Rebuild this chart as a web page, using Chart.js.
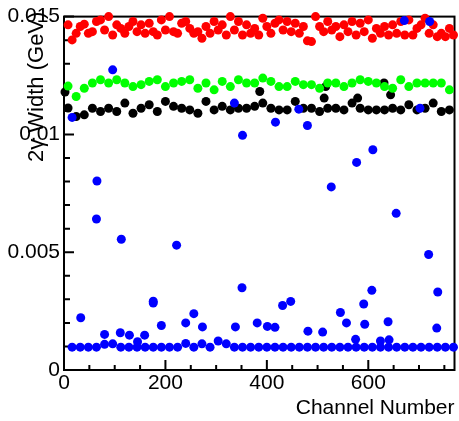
<!DOCTYPE html>
<html>
<head>
<meta charset="utf-8">
<script src="https://cdn.jsdelivr.net/npm/chart.js@4/dist/chart.umd.min.js"></script>
<style>
  html, body { margin: 0; padding: 0; background: #fff; }
  canvas { display: block; }
</style>
</head>
<body>
<canvas id="grafico" width="459" height="421"></canvas>
<script>
// Dados
const channels = [8,24,40,56,72,88,104,120,136,152,168,184,200,216,232,248,264,280,296,312,328,344,360,376,
  392,408,424,440,456,472,488,504,520,536,552,568,584,600,616,632,648,664,680,696,712,728,744,760];
const baseChannels = [16,32,48,64,80,96,112,128,144,160,176,192,208,224,240,256,272,288,304,320,336,352,368,384,
  400,416,432,448,464,480,496,512,528,544,560,576,592,608,624,640,656,672,688,704,720,736,752,768];

const redA = [0.01465,0.01429,0.01468,0.01436,0.01486,0.01500,0.01465,0.01429,0.01479,0.01465,0.01472,0.01422,
  0.01443,0.01436,0.01472,0.01450,0.01436,0.01458,0.01479,0.01465,0.01500,0.01479,0.01465,0.01450,
  0.01493,0.01429,0.01486,0.01479,0.01472,0.01458,0.01394,0.01458,0.01479,0.01458,0.01465,0.01479,
  0.01472,0.01486,0.01450,0.01458,0.01465,0.01479,0.01486,0.01450,0.01493,0.01465,0.01429,0.01450];
const redB = [0.01401,0.01458,0.01429,0.01479,0.01443,0.01422,0.01450,0.01458,0.01436,0.01429,0.01436,0.01486,
  0.01500,0.01429,0.01479,0.01429,0.01408,0.01429,0.01443,0.01422,0.01443,0.01422,0.01429,0.01422,
  0.01458,0.01472,0.01443,0.01436,0.01429,0.01397,0.01500,0.01436,0.01443,0.01415,0.01436,0.01422,
  0.01436,0.01408,0.01429,0.01422,0.01429,0.01422,0.01422,0.01465,0.01429,0.01415,0.01415,0.01422];

const green = [0.01205,0.01161,0.01196,0.01218,0.01232,0.01218,0.01232,0.01218,0.01203,0.01211,0.01225,0.01232,
  0.01203,0.01218,0.01225,0.01232,0.01196,0.01218,0.01189,0.01225,0.01203,0.01232,0.01218,0.01218,
  0.01239,0.01225,0.01203,0.01203,0.01225,0.01211,0.01211,0.01196,0.01218,0.01218,0.01203,0.01218,
  0.01232,0.01225,0.01218,0.01203,0.01196,0.01232,0.01203,0.01218,0.01218,0.01218,0.01218,0.01189];

const black = [0.01112,0.01076,0.01083,0.01111,0.01097,0.01111,0.01097,0.01133,0.01090,0.01111,0.01126,0.01097,
  0.01140,0.01119,0.01111,0.01104,0.01090,0.01140,0.01104,0.01119,0.01104,0.01111,0.01111,0.01119,
  0.01133,0.01111,0.01104,0.01104,0.01140,0.01111,0.01111,0.01097,0.01111,0.01111,0.01104,0.01133,
  0.01111,0.01104,0.01104,0.01104,0.01111,0.01104,0.01126,0.01104,0.01111,0.01133,0.01097,0.01104];
const blackExtraCh  = [2, 386, 513, 516, 579, 631, 644];
const blackExtraVal = [0.01180, 0.01182, 0.01154, 0.01203, 0.01154, 0.01218, 0.01168];

const blueBase = [0.00097,0.00097,0.00097,0.00097,0.00109,0.00111,0.00097,0.00097,0.00097,0.00097,0.00097,0.00097,
  0.00097,0.00097,0.00113,0.00097,0.00111,0.00097,0.00123,0.00111,0.00097,0.00097,0.00097,0.00097,
  0.00097,0.00097,0.00097,0.00097,0.00097,0.00097,0.00097,0.00097,0.00097,0.00097,0.00097,0.00097,
  0.00097,0.00097,0.00097,0.00097,0.00097,0.00097,0.00097,0.00097,0.00097,0.00097,0.00097,0.00097];
const blueOutCh  = [16,96,336,352,671,721,463,417,480,609,702,65,64,33,113,222,351,176,176,192,80,111,129,159,145,
  240,256,273,338,381,577,527,655,719,737,607,591,545,431,447,401,416,481,510,557,593,639,735,575,624,641];
const blueOutVal = [0.01072,0.01274,0.01133,0.00996,0.01483,0.01479,0.01107,0.01052,0.01038,0.00935,0.01111,
  0.00802,0.00641,0.00222,0.00555,0.00530,0.00349,0.00292,0.00284,0.00189,0.00151,0.00158,0.00148,0.00148,0.00120,
  0.00200,0.00239,0.00183,0.00183,0.00200,0.00881,0.00777,0.00665,0.00490,0.00331,0.00338,0.00280,0.00244,
  0.00274,0.00291,0.00185,0.00181,0.00165,0.00161,0.00200,0.00194,0.00205,0.00178,0.00130,0.00123,0.00128];

const xLabels = [0, 200, 400, 600];
const yLabels = [0, 0.005, 0.01, 0.015];
const xTitle = 'Channel Number';
const yTitle = '2\u03B3 Width (GeV)';

// Helpers
const fonte = '"Liberation Sans", Arial, sans-serif';
function pares(xs, ys){ return xs.map((x, i) => ({ x, y: ys[i] })); }
function serie(dados, cor){
  return { data: dados, backgroundColor: cor, borderColor: cor, pointRadius: 4.5, pointBorderWidth: 0,
           pointHoverRadius: 4.5, showLine: false, clip: false };
}
const ehRotulo = (lista, v) => lista.some(l => Math.abs(l - v) < 1e-9);

// moldura + ticks para dentro (estilo ROOT)
const molduraPlugin = {
  id: 'moldura',
  beforeDatasetsDraw(chart) {
    const { ctx, chartArea: a, scales: { x, y } } = chart;
    ctx.save();
    ctx.strokeStyle = '#000';
    ctx.lineWidth = 2;
    ctx.strokeRect(a.left, a.top, a.right - a.left, a.bottom - a.top);
    ctx.beginPath();
    x.ticks.forEach(t => {
      const px = x.getPixelForValue(t.value);
      const len = t.value % 200 === 0 ? 10 : 5;
      ctx.moveTo(px, a.bottom); ctx.lineTo(px, a.bottom - len);
    });
    y.ticks.forEach(t => {
      const py = y.getPixelForValue(t.value);
      const len = Math.round(t.value * 1000) % 5 === 0 ? 10 : 6;
      ctx.moveTo(a.left, py); ctx.lineTo(a.left + len, py);
    });
    ctx.stroke();
    ctx.restore();
  },
  afterDraw(chart) {
    const { ctx } = chart;
    ctx.save();
    ctx.fillStyle = '#000';
    ctx.font = '22px ' + fonte;
    ctx.translate(43, 162);
    ctx.rotate(-Math.PI / 2);
    ctx.textAlign = 'left';
    ctx.textBaseline = 'alphabetic';
    ctx.fillText(yTitle, 0, 0);
    ctx.restore();
  }
};

new Chart(document.getElementById('grafico'), {
  type: 'scatter',
  data: {
    datasets: [
      serie(pares(blueOutCh, blueOutVal), '#0000ff'),
      serie(pares(baseChannels, blueBase), '#0000ff'),
      serie(pares(channels, green), '#00ff00'),
      serie(pares(channels, black), '#000000'),
      serie(pares(blackExtraCh, blackExtraVal), '#000000'),
      serie(pares(channels, redA), '#ff0000'),
      serie(pares(baseChannels, redB), '#ff0000'),
    ]
  },
  options: {
    responsive: false,
    animation: false,
    devicePixelRatio: 1,
    layout: { padding: { top: 16, right: 1, left: 0, bottom: 0 } },
    plugins: { legend: { display: false }, tooltip: { enabled: false } },
    scales: {
      x: {
        type: 'linear', min: 0, max: 770,
        grid: { display: false, drawTicks: false },
        border: { display: false },
        ticks: {
          stepSize: 50, includeBounds: false, autoSkip: false, maxRotation: 0, padding: 1,
          color: '#000', font: { family: fonte, size: 21 },
          callback: v => ehRotulo(xLabels, v) ? String(v) : ''
        },
        title: { display: true, text: xTitle, align: 'end', color: '#000',
                 font: { family: fonte, size: 21 }, padding: { top: 0, bottom: 0 } },
        afterFit: s => { s.height = 51; }
      },
      y: {
        type: 'linear', min: 0, max: 0.015,
        grid: { display: false, drawTicks: false },
        border: { display: false },
        ticks: {
          stepSize: 0.001, includeBounds: false, autoSkip: false, padding: 4,
          color: '#000', font: { family: fonte, size: 21 },
          callback: v => ehRotulo(yLabels, v) ? String(+v.toFixed(3)) : ''
        },
        afterFit: s => { s.width = 64; }
      }
    }
  },
  plugins: [molduraPlugin]
});
</script>
</body>
</html>
